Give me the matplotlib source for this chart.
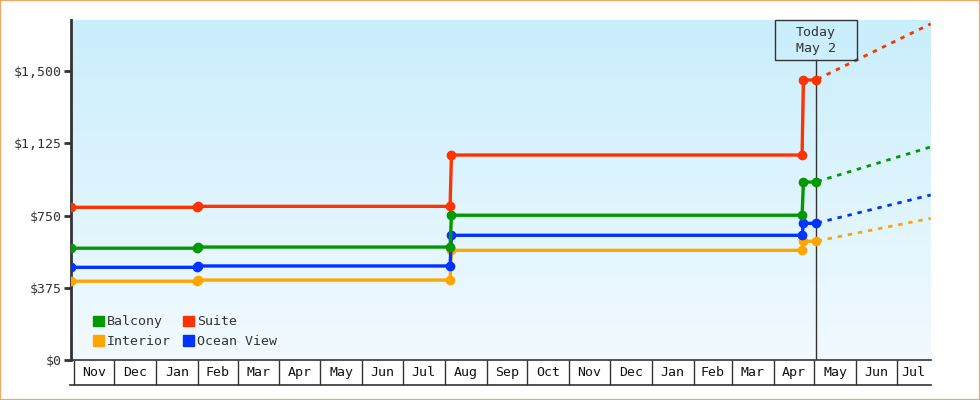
from datetime import date, timedelta
import numpy as np
import matplotlib
matplotlib.use("Agg")
import matplotlib.pyplot as plt
import matplotlib.dates as mdates
from matplotlib.patches import Patch, Rectangle
from matplotlib.transforms import blended_transform_factory

# price history (step points) and one forecast point per cabin type
step_dates = [date(2023, 10, 30), date(2024, 1, 31), date(2024, 2, 1),
              date(2024, 8, 5), date(2024, 8, 6),
              date(2025, 4, 22), date(2025, 4, 23), date(2025, 5, 2)]
today = date(2025, 5, 2)
forecast_date = date(2025, 7, 26)

balcony = [581, 581, 587, 587, 752, 752, 924, 924]
suite = [793, 793, 798, 798, 1064, 1064, 1453, 1453]
interior = [410, 410, 416, 416, 570, 570, 617, 617]
ocean_view = [482, 482, 489, 489, 648, 648, 710, 710]

forecast_balcony = 1106
forecast_suite = 1744
forecast_interior = 736
forecast_ocean_view = 857

y_ticks = [0, 375, 750, 1125, 1500]
y_tick_labels = ["$0", "$375", "$750", "$1,125", "$1,500"]

plt.rcParams["font.family"] = ["DejaVu Sans Mono", "DejaVu Sans"]
plt.rcParams["font.size"] = 9.5
ink = "#333333"

fig = plt.figure(figsize=(9.8, 4.0), dpi=100)
ax = fig.add_axes([71 / 980, (400 - 360.3) / 400, 859.7 / 980, 340.3 / 400])

fig.patches.append(Rectangle((0, 0), 1, 1, transform=fig.transFigure,
                             fill=False, edgecolor="#eaa965", linewidth=1.6))

# gradient background
grad = np.linspace(0, 1, 256).reshape(-1, 1)
top = np.array([0xc9, 0xee, 0xfc]) / 255
bottom = np.array([0xf2, 0xfa, 0xff]) / 255
img = top * (1 - grad)[..., None] + bottom * grad[..., None]
ax.imshow(img, extent=[0, 1, 0, 1], transform=ax.transAxes, aspect="auto",
          zorder=0)

series = [
    ("Interior", interior, forecast_interior, "#ffa500"),
    ("Ocean View", ocean_view, forecast_ocean_view, "#0033ff"),
    ("Balcony", balcony, forecast_balcony, "#009900"),
    ("Suite", suite, forecast_suite, "#ff3300"),
]

for name, vals, fc, col in series:
    ax.plot(step_dates, vals, color=col, lw=2.4, marker="o", ms=6,
            solid_joinstyle="miter", zorder=3)
    ax.plot([today, forecast_date], [vals[-1], fc], color=col, lw=2.0,
            linestyle=(3, (1.6, 2.1)), zorder=3)

xmin = today - timedelta(days=550)
xmax = forecast_date
ax.set_xlim(xmin, xmax)
ax.set_ylim(0, 1764)

ax.set_yticks(y_ticks)
ax.set_yticklabels(y_tick_labels)
ax.tick_params(axis="y", length=5, width=2, color=ink, labelcolor=ink, pad=2)

for s in ["top", "right"]:
    ax.spines[s].set_visible(False)
ax.spines["left"].set_linewidth(2)
ax.spines["left"].set_color(ink)
ax.spines["bottom"].set_linewidth(1.2)
ax.spines["bottom"].set_color(ink)

# month cells under the axis
month_starts = [date(2023 + (10 + i) // 12, (10 + i) % 12 + 1, 1) for i in range(21)]
ax.set_xticks(month_starts)
ax.set_xticklabels([])
ax.tick_params(axis="x", length=18, width=1, color=ink, direction="out")
trans = blended_transform_factory(ax.transData, ax.transAxes)
for i, m in enumerate(month_starts):
    end = month_starts[i + 1] if i + 1 < len(month_starts) else date(2025, 8, 1)
    a = mdates.date2num(max(m, xmin))
    b = mdates.date2num(min(end, xmax))
    ax.text((a + b) / 2, -12.5 / 340.3, m.strftime("%b"), transform=trans,
            ha="center", va="center", color="#111111")
ax.plot([-1.5 / 859.7, 1], [-25 / 340.3, -25 / 340.3], transform=ax.transAxes,
        color=ink, lw=1.2, clip_on=False)

# today marker
box_bottom = (360.3 - 60) / 340.3
ax.plot([today, today], [0, box_bottom], transform=trans, color=ink, lw=1,
        zorder=2)
ax.add_patch(Rectangle((mdates.date2num(today - timedelta(days=30.3)), box_bottom),
                       60.6, 1 - box_bottom, transform=trans, fill=False,
                       edgecolor=ink, lw=1, zorder=4, clip_on=False))
ax.text(today, (360.3 - 40.5) / 340.3, "Today\nMay 2", transform=trans,
        ha="center", va="center", linespacing=1.35, color=ink, zorder=5)

handles = [Patch(color="#009900", label="Balcony"),
           Patch(color="#ffa500", label="Interior"),
           Patch(color="#ff3300", label="Suite"),
           Patch(color="#0033ff", label="Ocean View")]
ax.legend(handles=handles, ncol=2, loc="lower left",
          bbox_to_anchor=(0.0252, 0.036), frameon=False, borderpad=0,
          borderaxespad=0, handlelength=0.85, handleheight=0.85,
          handletextpad=0.2, columnspacing=0.95, labelspacing=0.5,
          labelcolor=ink)

fig.savefig("out.png", dpi=100)
